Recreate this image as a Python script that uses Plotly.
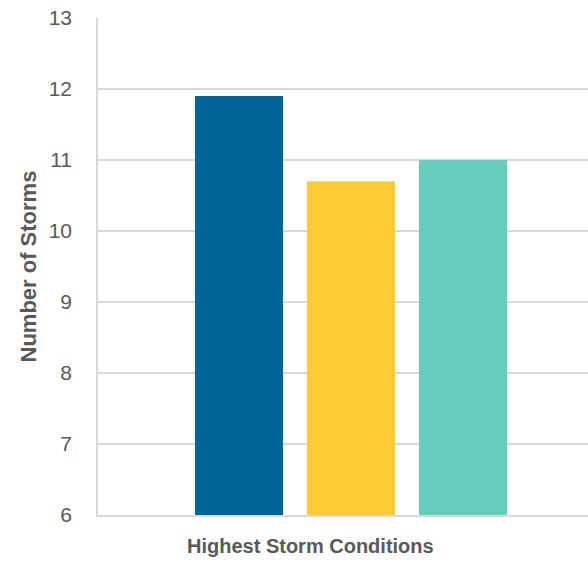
import plotly.graph_objects as go

# Storm counts under the highest storm conditions, one bar per group
groups = ["Group A", "Group B", "Group C"]
storms = [11.9, 10.7, 11.0]
colors = ["#00669A", "#FFCB32", "#66CCBC"]

y_ticks = [6, 7, 8, 9, 10, 11, 12, 13]

fig = go.Figure(
    go.Bar(
        x=groups,
        y=storms,
        marker=dict(color=colors, line=dict(width=0)),
        width=0.786,
        hoverinfo="x+y",
    )
)

grid = "#D9D9D9"
fig.update_layout(
    width=588,
    height=562,
    margin=dict(l=98, r=0, t=18, b=47),
    paper_bgcolor="white",
    plot_bgcolor="white",
    showlegend=False,
    font=dict(family="Liberation Sans, Arial, sans-serif", color="#595959"),
    xaxis=dict(
        type="category",
        range=[-1.259, 3.116],
        showticklabels=False,
        showgrid=False,
        showline=True,
        linecolor=grid,
        linewidth=1.5,
        zeroline=False,
        fixedrange=True,
    ),
    yaxis=dict(
        range=[6, 13],
        tickvals=y_ticks,
        showgrid=True,
        gridcolor=grid,
        gridwidth=1.5,
        showline=True,
        linecolor=grid,
        linewidth=1.5,
        zeroline=False,
        ticks="",
        ticklabelstandoff=20,
        tickfont=dict(size=21, color="#595959"),
        fixedrange=True,
    ),
    annotations=[
        dict(
            text="<b>Number of Storms</b>",
            xref="paper", yref="paper",
            x=-98 / 490 + 28 / 490, y=0.5,
            xanchor="center", yanchor="middle",
            textangle=-90,
            showarrow=False,
            font=dict(size=22, color="#595959",
                      family="Liberation Sans, Arial, sans-serif"),
        ),
        dict(
            text="<b>Highest Storm Conditions</b>",
            xref="paper", yref="paper",
            x=(310 - 98) / 490, y=-(546 - 515) / 497,
            xanchor="center", yanchor="middle",
            showarrow=False,
            font=dict(size=20, color="#595959",
                      family="Liberation Sans, Arial, sans-serif"),
        ),
    ],
)

fig.write_html("out.html")
